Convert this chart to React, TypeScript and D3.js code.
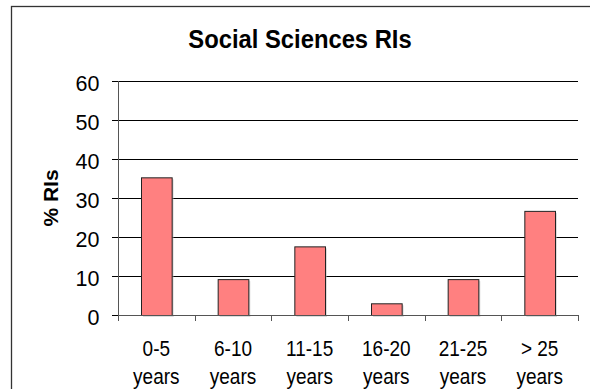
import React from "react";
import * as d3 from "d3";

const categories = ["0-5", "6-10", "11-15", "16-20", "21-25", "> 25"];
const values = [35.3, 9.2, 17.6, 3.0, 9.2, 26.7];
const yTicks = [0, 10, 20, 30, 40, 50, 60];
const catSuffix = "years";
const title = "Social Sciences RIs";
const yTitle = "% RIs";

const W = 590;
const H = 389;
const left = 118;
const right = 578;
const top = 81;
const bottom = 315;
const font = "'Liberation Sans', Arial, Helvetica, sans-serif";

export default function App() {
  const x = d3
    .scaleBand<string>()
    .domain(categories)
    .range([left, right])
    .paddingInner(0.6)
    .paddingOuter(0.3);
  const y = d3.scaleLinear().domain([0, 60]).range([bottom, top]);
  const step = x.step();
  const boundaries = d3.range(categories.length + 1).map((i) => left + i * step);

  return (
    <div style={{ position: "absolute", left: 0, top: 0 }}>
      <svg width={W} height={H} style={{ display: "block", background: "#fff" }}>
        <rect x={11.5} y={6.5} width={700} height={500} fill="#fff" stroke="#333" strokeWidth={1.3} />
        <text
          transform={`translate(300,47.7) scale(1,1.09)`}
          textAnchor="middle"
          fontFamily={font}
          fontWeight="bold"
          fontSize={23.8}
          fill="#000"
        >
          {title}
        </text>
        {/* gridlines */}
        {yTicks.map((t) => (
          <line key={"g" + t} x1={left - 6} x2={right} y1={Math.round(y(t)) + 0.5} y2={Math.round(y(t)) + 0.5} stroke="#000" strokeWidth={1} />
        ))}
        {/* y axis line */}
        <line x1={left + 0.5} x2={left + 0.5} y1={top} y2={bottom + 1} stroke="#555" strokeWidth={1} />
        {yTicks.map((t) => (
          <text key={"t" + t} x={99.5} y={y(t) + 9.8} textAnchor="end" fontFamily={font} fontSize={21.5} fill="#000">
            {t}
          </text>
        ))}
        <text
          transform={`translate(${58},${198}) rotate(-90)`}
          textAnchor="middle"
          fontFamily={font}
          fontWeight="bold"
          fontSize={21}
          fill="#000"
        >
          {yTitle}
        </text>
        {/* bars */}
        {values.map((v, i) => (
          <g key={"b" + i}>
            <rect x={x(categories[i])! + 2} y={y(v) + 2} width={x.bandwidth()} height={bottom - y(v)} fill="#bbb" opacity={0.5} />
            <rect
              x={x(categories[i])! + 0.5}
              y={y(v) + 0.5}
              width={x.bandwidth()}
              height={bottom - y(v)}
              fill="#FF8080"
              stroke="#222"
              strokeWidth={1}
            />
          </g>
        ))}
        {/* x axis */}
        <line x1={left} x2={right} y1={bottom + 0.5} y2={bottom + 0.5} stroke="#555" strokeWidth={1} />
        {boundaries.map((b, i) => (
          <line key={"xt" + i} x1={Math.round(b) + 0.5} x2={Math.round(b) + 0.5} y1={bottom} y2={bottom + 6} stroke="#555" strokeWidth={1} />
        ))}
        {categories.map((c) => {
          const cx = x(c)! + x.bandwidth() / 2;
          return (
            <g key={"l" + c}>
              <text transform={`translate(${cx},356) scale(1,1.15)`} textAnchor="middle" fontFamily={font} fontSize={19} fill="#000">
                {c}
              </text>
              <text transform={`translate(${cx},383.5) scale(1,1.15)`} textAnchor="middle" fontFamily={font} fontSize={19} fill="#000">
                {catSuffix}
              </text>
            </g>
          );
        })}
      </svg>
    </div>
  );
}
